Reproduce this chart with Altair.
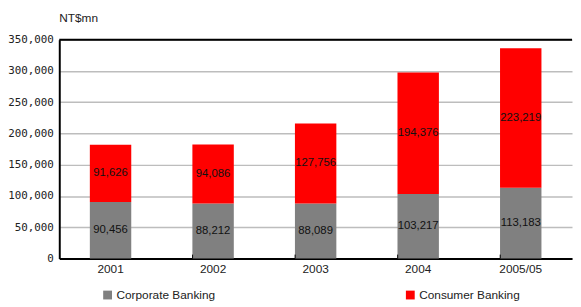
import altair as alt
import pandas as pd

years = ["2001", "2002", "2003", "2004", "2005/05"]
corporate = [90456, 88212, 88089, 103217, 113183]
consumer = [91626, 94086, 127756, 194376, 223219]
series = ["Corporate Banking", "Consumer Banking"]
colors = ["#808080", "#ff0000"]
y_ticks = [0, 50000, 100000, 150000, 200000, 250000, 300000, 350000]

rows = []
for i, y in enumerate(years):
    rows.append({"year": y, "segment": series[0], "value": corporate[i], "order": 0,
                 "start": 0, "end": corporate[i]})
    rows.append({"year": y, "segment": series[1], "value": consumer[i], "order": 1,
                 "start": corporate[i], "end": corporate[i] + consumer[i]})
df = pd.DataFrame(rows)
df["mid"] = (df["start"] + df["end"]) / 2
df["label"] = [f"{v:,}" for v in df["value"]]

yscale = alt.Scale(domain=[0, 350000], nice=False)
yaxis = alt.Axis(values=y_ticks,
                 labelExpr="datum.value == 0 ? '0' : floor(datum.value / 1000) + ',000'",
                 labelFont="DejaVu Sans Mono", labelFontSize=11,
                 labelColor="#222", labelPadding=6, ticks=False,
                 domainColor="black", domainWidth=2,
                 gridColor="#bdbdbd", gridWidth=1.5)

xenc = alt.X("year:N", sort=years, title=None,
             scale=alt.Scale(paddingInner=0.6, paddingOuter=0.3),
             axis=alt.Axis(labelAngle=0, ticks=False, tickSize=0, labelPadding=5,
                           labelFont="Liberation Sans", labelFontSize=12, labelColor="#222",
                           domainColor="black", domainWidth=2, grid=False))

base = alt.Chart(df)

bars = base.mark_bar(size=42).encode(
    x=xenc,
    y=alt.Y("start:Q", title=None, scale=yscale, axis=yaxis),
    y2="end:Q",
    color=alt.Color("segment:N", sort=series,
                    scale=alt.Scale(domain=series, range=colors),
                    legend=alt.Legend(title=None, orient="none", legendX=43, legendY=253,
                                      direction="horizontal", columns=2, columnPadding=191,
                                      symbolType="square", symbolSize=80, symbolStrokeWidth=0,
                                      labelFont="Liberation Sans", labelFontSize=12,
                                      labelColor="#222", labelOffset=3)),
)

labels = base.mark_text(font="Liberation Sans", fontSize=11.5, color="#111").encode(
    x=alt.X("year:N", sort=years, title=None),
    y=alt.Y("mid:Q", title=None, scale=yscale, axis=yaxis),
    text=alt.Text("label:N"),
)

top_line = alt.Chart(pd.DataFrame({"v": [350000]})).mark_rule(
    color="black", strokeWidth=2).encode(y=alt.Y("v:Q", title=None, scale=yscale, axis=yaxis))

boundary = pd.DataFrame({"year": years[1:]})
ticks = alt.Chart(boundary).mark_rule(color="black", strokeWidth=1).encode(
    x=alt.X("year:N", sort=years, bandPosition=0, title=None),
    y=alt.value(222), y2=alt.value(218))

chart = alt.layer(bars, labels, top_line, ticks).properties(
    width=520, height=222,
    title=alt.TitleParams("NT$mn", anchor="start", frame="group", font="Liberation Sans",
                          fontSize=12, fontWeight="normal", color="#222", offset=9, dx=0),
    autosize=alt.AutoSizeParams(type="none"),
    padding={"left": 52, "top": 30, "right": 1, "bottom": 45},
).configure_view(stroke=None)

chart.save("out.html", embed_options={"renderer": "svg", "actions": False})
